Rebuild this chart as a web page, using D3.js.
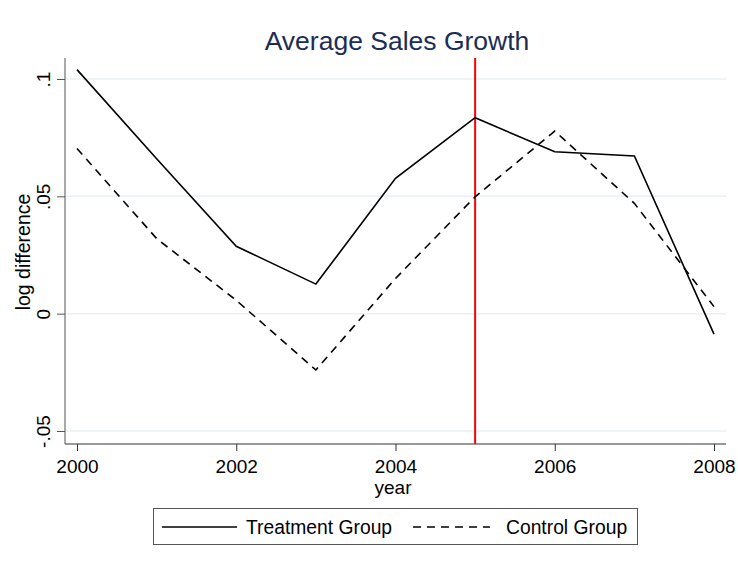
<!DOCTYPE html>
<html><head><meta charset="utf-8">
<script src="https://cdn.jsdelivr.net/npm/d3@7"></script>
<style>html,body{margin:0;padding:0;background:#fff}svg{display:block;font-family:"Liberation Sans",Arial,sans-serif}</style>
</head><body>
<svg id="c" width="738" height="567"></svg>
<script>
const years = [2000, 2001, 2002, 2003, 2004, 2005, 2006, 2007, 2008];
const treatment = [0.104, 0.066, 0.0287, 0.0126, 0.0577, 0.0835, 0.0690, 0.0672, -0.0087];
const control = [0.0704, 0.0320, 0.0057, -0.0240, 0.0150, 0.0498, 0.0778, 0.0470, 0.0030];
const yTicks = [-0.05, 0, 0.05, 0.1];
const yTickLabels = ["-.05", "0", ".05", ".1"];
const xTicks = [2000, 2002, 2004, 2006, 2008];
const eventYear = 2005;
const seriesNames = ["Treatment Group", "Control Group"];

(function () {
const svg = d3.select("#c");
const pl = 65, pr = 726, pt = 58, pb = 444;
const x = d3.scaleLinear().domain([2000, 2008]).range([77, 714]);
const y = d3.scaleLinear().domain([-0.05, 0.1]).range([431, 79]);
const FF = "'Liberation Sans', Arial, sans-serif";

// grid
svg.append("g").selectAll("line").data(yTicks).join("line")
  .attr("x1", pl).attr("x2", pr)
  .attr("y1", d => y(d)).attr("y2", d => y(d))
  .attr("stroke", "#eaf0f3").attr("stroke-width", 1.5);

// y axis
const yAxis = svg.append("g").attr("transform", `translate(${pl},0)`)
  .call(d3.axisLeft(y).tickValues(yTicks).tickSize(8).tickFormat((d,i) => yTickLabels[i]));
yAxis.select(".domain").attr("d", `M0,${pt}V${pb}`).attr("stroke", "#555");
yAxis.selectAll(".tick line").attr("stroke", "#555");
yAxis.selectAll(".tick text")
  .attr("transform", "rotate(-90)")
  .attr("x", 0).attr("y", -15).attr("dy", 0)
  .attr("text-anchor", "middle")
  .attr("font-size", 19).attr("fill", "#000")
  .attr("font-family", FF);

// x axis
const xAxis = svg.append("g").attr("transform", `translate(0,${pb})`)
  .call(d3.axisBottom(x).tickValues(xTicks).tickSize(7).tickFormat(d3.format("d")));
xAxis.select(".domain").attr("d", `M${pl},0H${pr}`).attr("stroke", "#333");
xAxis.selectAll(".tick line").attr("stroke", "#333");
xAxis.selectAll(".tick text")
  .attr("y", 29).attr("dy", 0)
  .attr("font-size", 19).attr("fill", "#000")
  .attr("font-family", FF);

// red vertical line
svg.append("line")
  .attr("x1", x(eventYear)).attr("x2", x(eventYear))
  .attr("y1", pt).attr("y2", pb)
  .attr("stroke", "#ff0000").attr("stroke-width", 2);

const line = d3.line().x((d,i) => x(years[i])).y(d => y(d));
svg.append("path").datum(treatment).attr("d", line)
  .attr("fill", "none").attr("stroke", "#000").attr("stroke-width", 1.6);
svg.append("path").datum(control).attr("d", line)
  .attr("fill", "none").attr("stroke", "#000").attr("stroke-width", 1.6)
  .attr("stroke-dasharray", "8,6");

// title
svg.append("text").attr("x", 397).attr("y", 50).attr("text-anchor", "middle")
  .attr("font-size", 26.5).attr("fill", "#1c2d55").text("Average Sales Growth");

// axis titles
svg.append("text").attr("x", 393).attr("y", 494).attr("text-anchor", "middle")
  .attr("font-size", 19).attr("fill", "#000").text("year");
svg.append("text").attr("transform", "translate(30,252) rotate(-90)")
  .attr("text-anchor", "middle").attr("font-size", 19.5).attr("fill", "#000")
  .text("log difference");

// legend
const lg = svg.append("g");
lg.append("rect").attr("x", 153.5).attr("y", 508.5).attr("width", 484).attr("height", 36)
  .attr("fill", "#fff").attr("stroke", "#555").attr("stroke-width", 1);
const legendItems = [
  {name: seriesNames[0], x1: 162, x2: 237, tx: 246, dash: null},
  {name: seriesNames[1], x1: 413, x2: 490, tx: 506, dash: "8,6"}
];
legendItems.forEach(it => {
  lg.append("line").attr("x1", it.x1).attr("x2", it.x2).attr("y1", 527).attr("y2", 527)
    .attr("stroke", "#000").attr("stroke-width", 1.6)
    .attr("stroke-dasharray", it.dash);
  lg.append("text").attr("x", it.tx).attr("y", 534).attr("font-size", 19.3)
    .attr("fill", "#000").text(it.name);
});
})();
</script>
</body></html>
